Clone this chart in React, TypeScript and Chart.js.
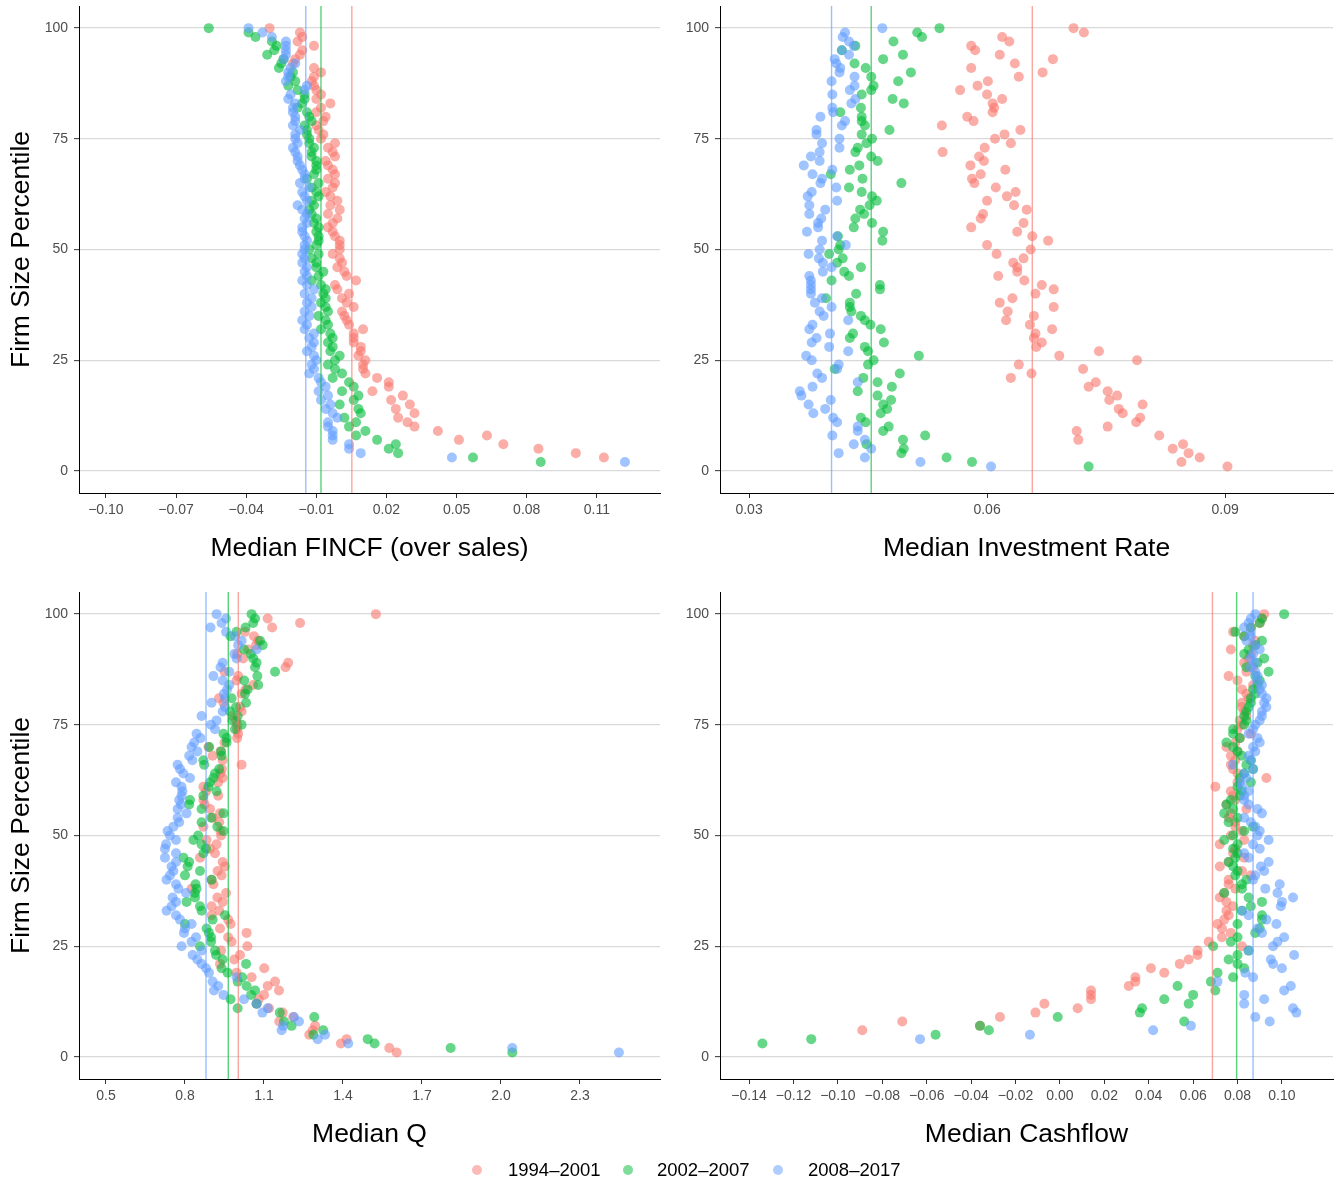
import React, { useEffect, useRef } from "react";
import { Chart, registerables } from "chart.js";

Chart.register(...registerables);

const FONT = "'Liberation Sans', Arial, Helvetica, sans-serif";

// Firm size percentile ranks (y values shared by every series)
const percentiles = [
  1, 2, 3, 4, 5, 6, 7, 8, 9, 10,
  11, 12, 13, 14, 15, 16, 17, 18, 19, 20,
  21, 22, 23, 24, 25, 26, 27, 28, 29, 30,
  31, 32, 33, 34, 35, 36, 37, 38, 39, 40,
  41, 42, 43, 44, 45, 46, 47, 48, 49, 50,
  51, 52, 53, 54, 55, 56, 57, 58, 59, 60,
  61, 62, 63, 64, 65, 66, 67, 68, 69, 70,
  71, 72, 73, 74, 75, 76, 77, 78, 79, 80,
  81, 82, 83, 84, 85, 86, 87, 88, 89, 90,
  91, 92, 93, 94, 95, 96, 97, 98, 99, 100,
];

const periods = ["1994–2001", "2002–2007", "2008–2017"];
const periodRgb = ["248,118,109", "0,186,56", "97,156,255"];

const yTicks = [0, 25, 50, 75, 100];

// ---- Median FINCF (over sales), by percentile 1..100 ----
const fincf1994 = [
  null, null, 0.113, 0.101, 0.085, 0.070, 0.051, 0.063, 0.042, 0.032,
  0.029, 0.025, 0.032, 0.024, 0.030, 0.022, 0.027, 0.014, 0.021, 0.021,
  0.016, 0.011, 0.010, 0.010, 0.011, 0.008, 0.009, 0.009, 0.006, 0.006,
  0.006, 0.010, 0.004, 0.003, 0.002, 0.001, 0.006, 0.003, 0.001, 0.004,
  -0.001, -0.002, 0.007, 0.003, 0.002, -0.001, 0.001, 0.000, -0.003, 0.000,
  0.000, 0.000, -0.002, -0.003, -0.005, -0.003, -0.001, -0.005, 0.000, -0.004,
  -0.001, -0.004, -0.006, -0.003, -0.002, -0.005, -0.002, -0.003, -0.005, -0.006,
  -0.002, -0.003, -0.005, -0.002, -0.008, -0.007, -0.009, -0.010, -0.007, -0.006,
  -0.010, -0.008, -0.004, -0.010, -0.008, -0.010, -0.011, -0.012, -0.011, -0.008,
  -0.011, -0.020, -0.019, -0.017, -0.016, -0.011, -0.018, -0.016, -0.017, -0.030,
];
const fincf2002 = [
  null, 0.086, 0.057, 0.025, 0.021, 0.024, 0.016, 0.007, 0.011, 0.004,
  0.007, 0.002, 0.009, 0.008, 0.000, 0.006, 0.008, 0.001, 0.006, 0.004,
  -0.003, 0.001, -0.002, -0.005, -0.002, 0.000, -0.004, -0.003, -0.005, -0.003,
  -0.004, -0.008, -0.005, -0.006, -0.009, -0.005, -0.006, -0.008, -0.006, -0.007,
  -0.006, -0.008, -0.012, -0.009, -0.007, -0.010, -0.010, -0.012, -0.009, -0.013,
  -0.010, -0.009, -0.009, -0.010, -0.009, -0.011, -0.010, -0.012, -0.013, -0.011,
  -0.012, -0.009, -0.010, -0.012, -0.009, -0.014, -0.011, -0.010, -0.010, -0.010,
  -0.012, -0.012, -0.011, -0.013, -0.013, -0.014, -0.014, -0.015, -0.012, -0.013,
  -0.014, -0.018, -0.016, -0.015, -0.015, -0.018, -0.022, -0.019, -0.021, -0.020,
  -0.026, -0.025, -0.024, -0.031, -0.028, -0.027, -0.029, -0.036, -0.039, -0.056,
];
const fincf2008 = [
  null, 0.122, 0.048, 0.009, 0.004, 0.004, -0.003, -0.003, -0.003, -0.005,
  -0.005, -0.001, -0.003, -0.006, -0.004, -0.008, -0.005, -0.009, -0.006, -0.008,
  -0.009, -0.013, -0.011, -0.012, -0.010, -0.011, -0.014, -0.012, -0.011, -0.013,
  -0.011, -0.015, -0.014, -0.016, -0.013, -0.015, -0.012, -0.014, -0.012, -0.015,
  -0.011, -0.014, -0.016, -0.014, -0.015, -0.014, -0.016, -0.015, -0.016, -0.015,
  -0.015, -0.014, -0.015, -0.016, -0.016, -0.014, -0.015, -0.014, -0.016, -0.018,
  -0.014, -0.015, -0.016, -0.013, -0.017, -0.015, -0.015, -0.016, -0.017, -0.018,
  -0.018, -0.019, -0.020, -0.018, -0.019, -0.019, -0.017, -0.020, -0.019, -0.019,
  -0.020, -0.020, -0.019, -0.022, -0.021, -0.015, -0.014, -0.023, -0.022, -0.022,
  -0.021, -0.019, -0.024, -0.023, -0.023, -0.023, -0.023, -0.029, -0.033, -0.039,
];
const fincfMedians = [0.0052, -0.008, -0.0145];
const fincfTicks = [-0.1, -0.07, -0.04, -0.01, 0.02, 0.05, 0.08, 0.11];

// ---- Median investment rate ----
const invest1994 = [
  0.0903, 0.0845, 0.0868, 0.0854, 0.0834, 0.0847, 0.0715, 0.0817, 0.0713, 0.0752,
  0.0788, 0.0793, 0.0771, 0.0766, 0.0796, 0.0754, 0.0764, 0.0752, 0.0728, 0.0737,
  0.0630, 0.0656, 0.0721, 0.0640, 0.0789, 0.0691, 0.0741, 0.0662, 0.0669, 0.0659,
  0.0661, 0.0682, 0.0654, 0.0624, 0.0659, 0.0626, 0.0684, 0.0616, 0.0632, 0.0661,
  0.0684, 0.0669, 0.0647, 0.0614, 0.0638, 0.0638, 0.0633, 0.0646, 0.0612, 0.0655,
  0.0600, 0.0677, 0.0657, 0.0638, 0.0580, 0.0646, 0.0592, 0.0595, 0.0650, 0.0634,
  0.0600, 0.0625, 0.0636, 0.0611, 0.0584, 0.0581, 0.0592, 0.0623, 0.0579, 0.0596,
  0.0590, 0.0544, 0.0597, 0.0630, 0.0610, 0.0622, 0.0642, 0.0543, 0.0583, 0.0575,
  0.0607, 0.0609, 0.0607, 0.0619, 0.0600, 0.0566, 0.0588, 0.0601, 0.0640, 0.0670,
  0.0580, 0.0635, 0.0683, 0.0616, 0.0585, 0.0580, 0.0628, 0.0619, 0.0722, 0.0709,
];
const invest2002 = [
  0.0728, 0.0581, 0.0549, 0.0492, 0.0495, 0.0448, 0.0494, 0.0522, 0.0469, 0.0476,
  0.0447, 0.0441, 0.0466, 0.0474, 0.0469, 0.0479, 0.0462, 0.0437, 0.0480, 0.0462,
  0.0444, 0.0490, 0.0408, 0.0450, 0.0457, 0.0514, 0.0450, 0.0446, 0.0470, 0.0427,
  0.0431, 0.0466, 0.0453, 0.0446, 0.0441, 0.0429, 0.0427, 0.0427, 0.0397, 0.0435,
  0.0465, 0.0465, 0.0404, 0.0426, 0.0420, 0.0441, 0.0411, 0.0418, 0.0401, 0.0413,
  0.0415, 0.0468, 0.0412, 0.0469, 0.0432, 0.0455, 0.0434, 0.0445, 0.0440, 0.0452,
  0.0461, 0.0455, 0.0442, 0.0426, 0.0492, 0.0443, 0.0403, 0.0427, 0.0439, 0.0462,
  0.0454, 0.0434, 0.0437, 0.0448, 0.0455, 0.0442, 0.0477, 0.0446, 0.0442, 0.0442,
  0.0415, 0.0441, 0.0495, 0.0481, 0.0442, 0.0454, 0.0457, 0.0488, 0.0454, 0.0504,
  0.0447, 0.0433, 0.0469, 0.0494, 0.0417, 0.0434, 0.0482, 0.0518, 0.0512, 0.0540,
];
const invest2008 = [
  0.0605, 0.0516, 0.0446, 0.0413, 0.0454, 0.0432, 0.0446, 0.0405, 0.0437, 0.0437,
  0.0411, 0.0406, 0.0381, 0.0396, 0.0375, 0.0403, 0.0366, 0.0364, 0.0380, 0.0437,
  0.0392, 0.0386, 0.0411, 0.0413, 0.0379, 0.0372, 0.0425, 0.0401, 0.0379, 0.0385,
  0.0402, 0.0376, 0.0380, 0.0425, 0.0394, 0.0389, 0.0404, 0.0383, 0.0392, 0.0378,
  0.0378, 0.0378, 0.0378, 0.0376, 0.0393, 0.0404, 0.0393, 0.0388, 0.0375, 0.0389,
  0.0422, 0.0392, 0.0411, 0.0373, 0.0387, 0.0387, 0.0391, 0.0376, 0.0396, 0.0376,
  0.0411, 0.0374, 0.0379, 0.0410, 0.0390, 0.0392, 0.0380, 0.0405, 0.0369, 0.0389,
  0.0378, 0.0389, 0.0414, 0.0392, 0.0414, 0.0385, 0.0385, 0.0417, 0.0421, 0.0390,
  0.0406, 0.0405, 0.0429, 0.0434, 0.0405, 0.0427, 0.0433, 0.0404, 0.0433, 0.0414,
  0.0415, 0.0410, 0.0408, 0.0426, 0.0417, 0.0432, 0.0426, 0.0418, 0.0421, 0.0468,
];
const investMedians = [0.0657, 0.0454, 0.0404];
const investTicks = [0.03, 0.06, 0.09];

// ---- Median Q ----
const q1994 = [
  1.604, 1.576, 1.392, 1.414, 1.272, 1.285, 1.294, 1.158, 1.211, 1.171,
  1.119, 1.072, 1.080, 1.100, 1.157, 1.114, 1.142, 1.053, 0.996, 1.101,
  0.933, 0.987, 1.009, 0.937, 1.037, 0.977, 0.964, 1.034, 0.933, 0.973,
  0.964, 0.901, 0.930, 0.901, 0.943, 0.923, 0.956, 0.825, 0.908, 0.901,
  0.939, 0.924, 0.952, 0.943, 0.857, 0.914, 0.895, 0.920, 0.882, 0.937,
  0.935, 0.870, 0.930, 0.905, 0.933, 0.895, 0.875, 0.870, 0.926, 0.880,
  0.870, 0.926, 0.943, 0.935, 0.940, 1.015, 0.943, 0.905, 0.935, 0.889,
  0.950, 0.998, 1.002, 0.998, 0.998, 0.994, 0.980, 1.015, 1.009, 0.946,
  0.929, 1.015, 1.030, 1.059, 0.996, 1.002, 0.950, 1.182, 1.192, 1.021,
  0.998, 1.040, 1.070, 1.078, 1.062, 1.028, 1.131, 1.237, 1.114, 1.525,
];
const q2002 = [
  2.043, 1.809, 1.520, 1.494, 1.288, 1.325, 1.205, 1.176, 1.291, 1.160,
  1.000, 1.072, 0.973, 1.051, 1.066, 1.034, 1.000, 1.017, 0.962, 0.939,
  1.032, 0.943, 0.918, 0.914, 0.857, 0.899, 0.899, 0.891, 0.882, 0.800,
  0.905, 0.952, 0.863, 0.857, 0.806, 0.838, 0.838, 0.844, 0.840, 0.901,
  0.800, 0.857, 0.810, 0.816, 0.794, 0.870, 0.880, 0.863, 0.832, 0.850,
  0.946, 0.923, 0.863, 0.900, 0.946, 0.863, 0.816, 0.819, 0.870, 0.920,
  0.889, 0.895, 0.908, 0.914, 0.930, 0.873, 0.870, 0.939, 0.937, 0.892,
  0.958, 0.958, 0.946, 0.990, 1.015, 0.980, 1.000, 0.971, 0.994, 1.032,
  0.977, 1.028, 1.038, 1.078, 1.025, 1.075, 1.142, 1.066, 1.072, 1.059,
  1.050, 1.024, 1.095, 1.085, 0.973, 0.996, 1.030, 1.059, 1.066, 1.053,
];
const q2008 = [
  2.448, 2.043, 1.420, 1.304, 1.332, 1.167, 1.173, 1.233, 1.214, 1.094,
  1.114, 1.072, 1.024, 0.946, 0.910, 0.926, 0.905, 0.996, 0.891, 0.880,
  0.863, 0.847, 0.829, 0.863, 0.787, 0.825, 0.842, 0.796, 0.800, 0.825,
  0.781, 0.766, 0.730, 0.749, 0.766, 0.753, 0.804, 0.775, 0.766, 0.730,
  0.743, 0.756, 0.749, 0.766, 0.724, 0.766, 0.724, 0.728, 0.766, 0.743,
  0.734, 0.756, 0.778, 0.772, 0.806, 0.772, 0.785, 0.778, 0.787, 0.790,
  0.787, 0.766, 0.819, 0.794, 0.781, 0.772, 0.828, 0.816, 0.847, 0.825,
  0.835, 0.859, 0.844, 0.914, 0.899, 0.920, 0.863, 0.943, 0.952, 0.901,
  0.952, 0.948, 0.960, 0.968, 0.943, 0.908, 0.968, 0.935, 0.943, 0.996,
  0.987, 1.072, 1.002, 1.015, 0.990, 0.956, 0.897, 0.939, 0.956, 0.920,
];
const qMedians = [1.0025, 0.9645, 0.88];
const qTicks = [0.5, 0.8, 1.1, 1.4, 1.7, 2.0, 2.3];

// ---- Median cashflow ----
const cash1994 = [
  null, null, null, null, null, -0.089, -0.036, -0.071, -0.027, -0.011,
  0.008, -0.007, 0.014, 0.014, 0.014, 0.031, 0.034, 0.034, 0.047, 0.041,
  0.054, 0.058, 0.062, 0.062, 0.082, 0.067, 0.073, 0.077, 0.073, 0.071,
  0.074, 0.076, 0.075, 0.078, 0.075, 0.072, 0.074, 0.079, 0.076, 0.076,
  0.086, 0.082, 0.072, 0.076, 0.083, 0.078, 0.079, 0.072, 0.083, 0.077,
  0.082, 0.079, 0.079, 0.076, 0.077, 0.084, 0.075, 0.079, 0.078, 0.077,
  0.070, 0.080, 0.093, 0.080, 0.078, 0.077, 0.079, 0.077, 0.080, 0.075,
  0.079, 0.081, 0.086, 0.080, 0.082, 0.081, 0.084, 0.083, 0.082, 0.082,
  0.085, 0.084, 0.082, 0.087, 0.080, 0.076, 0.084, 0.087, 0.083, 0.085,
  0.086, 0.077, 0.087, 0.088, 0.083, 0.078, 0.086, 0.090, 0.091, 0.092,
];
const cash2002 = [
  null, null, -0.134, -0.112, -0.056, -0.032, -0.036, 0.056, -0.001, 0.036,
  0.037, 0.058, 0.047, 0.060, 0.070, 0.053, 0.068, 0.078, 0.071, 0.083,
  0.080, 0.076, 0.080, 0.085, 0.069, 0.077, 0.080, 0.088, 0.090, 0.080,
  0.091, 0.091, 0.082, 0.086, 0.091, 0.085, 0.074, 0.082, 0.082, 0.084,
  0.079, 0.080, 0.078, 0.076, 0.079, 0.080, 0.078, 0.080, 0.074, 0.078,
  0.083, 0.087, 0.076, 0.080, 0.074, 0.078, 0.075, 0.077, 0.081, 0.082,
  0.080, 0.086, 0.081, 0.083, 0.087, 0.084, 0.086, 0.082, 0.080, 0.078,
  0.075, 0.081, 0.078, 0.078, 0.083, 0.084, 0.083, 0.084, 0.085, 0.086,
  0.086, 0.088, 0.087, 0.089, 0.090, 0.088, 0.094, 0.084, 0.089, 0.092,
  0.083, 0.085, 0.088, 0.091, 0.083, 0.079, 0.086, 0.090, 0.091, 0.101,
];
const cash2008 = [
  null, null, null, -0.063, -0.0135, 0.042, 0.059, 0.0945, 0.088, 0.1065,
  0.105, 0.083, 0.092, 0.083, 0.101, 0.104, 0.071, 0.087, 0.0835, 0.100,
  0.096, 0.095, 0.1055, 0.085, 0.096, 0.098, 0.101, 0.091, 0.089, 0.0975,
  0.093, 0.085, 0.082, 0.0995, 0.100, 0.105, 0.098, 0.0925, 0.099, 0.087,
  0.088, 0.092, 0.0905, 0.094, 0.085, 0.083, 0.090, 0.087, 0.094, 0.089,
  0.090, 0.088, 0.086, 0.083, 0.091, 0.089, 0.085, 0.083, 0.083, 0.085,
  0.082, 0.081, 0.084, 0.083, 0.087, 0.078, 0.086, 0.085, 0.088, 0.087,
  0.090, 0.089, 0.085, 0.087, 0.088, 0.090, 0.091, 0.091, 0.093, 0.092,
  0.093, 0.091, 0.090, 0.091, 0.089, 0.089, 0.088, 0.086, 0.088, 0.086,
  0.087, 0.090, 0.088, 0.084, 0.086, 0.086, 0.083, 0.085, 0.086, 0.088,
];
const cashMedians = [0.0687, 0.0796, 0.087];
const cashTicks = [-0.14, -0.12, -0.1, -0.08, -0.06, -0.04, -0.02, 0, 0.02, 0.04, 0.06, 0.08, 0.1];

const rgba = (rgb: string, a: number) => `rgba(${rgb},${a})`;
const fmt = (v: number, d: number) => v.toFixed(d).replace("-", "\u2212");

type PanelProps = {
  left: number;
  top: number;
  width: number;
  height: number;
  yAxisWidth: number;
  padRight: number;
  xMin: number;
  xMax: number;
  xTicks: number[];
  decimals: number;
  xTitle: string;
  showYTitle: boolean;
  series: (number | null)[][];
  medians: number[];
};

function ScatterPanel(props: PanelProps) {
  const canvasRef = useRef<HTMLCanvasElement | null>(null);

  useEffect(() => {
    const canvas = canvasRef.current;
    if (!canvas) return;
    const { yAxisWidth, padRight, xMin, xMax, xTicks, decimals, xTitle, showYTitle, series, medians } = props;

    const medianSets = medians.map((m, i) => ({
      label: periods[i] + " median",
      data: [
        { x: m, y: -5 },
        { x: m, y: 105 },
      ],
      showLine: true,
      borderColor: rgba(periodRgb[i], 0.65),
      borderWidth: 1.4,
      pointRadius: 0,
      order: 0,
    }));

    const pointSets = series.map((vals, i) => ({
      label: periods[i],
      data: percentiles.flatMap((p, j) => (vals[j] === null ? [] : [{ x: vals[j] as number, y: p }])),
      backgroundColor: rgba(periodRgb[i], 0.6),
      borderWidth: 0,
      pointRadius: 5,
      pointHoverRadius: 5,
      order: 3 - i,
    }));

    const chart = new Chart(canvas, {
      type: "scatter",
      data: { datasets: [...medianSets, ...pointSets] as any },
      options: {
        responsive: false,
        animation: false,
        events: [],
        layout: { padding: { top: 6, right: padRight, left: 0, bottom: 0 } },
        plugins: { legend: { display: false }, tooltip: { enabled: false } },
        scales: {
          x: {
            type: "linear",
            min: xMin,
            max: xMax,
            afterBuildTicks: (scale: any) => {
              scale.ticks = xTicks.map((v) => ({ value: v }));
            },
            afterFit: (scale: any) => {
              scale.height = 82;
              scale.paddingLeft = 0;
              scale.paddingRight = 0;
            },
            ticks: {
              autoSkip: false,
              maxRotation: 0,
              minRotation: 0,
              padding: 4,
              color: "#4d4d4d",
              font: { family: FONT, size: 14 },
              callback: (v: any) => fmt(Number(v), decimals),
            },
            grid: {
              drawOnChartArea: false,
              drawTicks: true,
              tickLength: 5,
              tickColor: "#333333",
              tickWidth: 1,
            },
            border: { display: true, color: "#000000", width: 1 },
            title: {
              display: true,
              text: xTitle,
              color: "#000000",
              font: { family: FONT, size: 26.5 },
              padding: { top: 0, bottom: 10 },
            },
          },
          y: {
            type: "linear",
            min: -5,
            max: 105,
            afterBuildTicks: (scale: any) => {
              scale.ticks = yTicks.map((v) => ({ value: v }));
            },
            afterFit: (scale: any) => {
              scale.width = yAxisWidth;
              scale.paddingTop = 0;
              scale.paddingBottom = 0;
            },
            ticks: {
              padding: 6,
              color: "#4d4d4d",
              font: { family: FONT, size: 14 },
              callback: (v: any) => String(v),
            },
            grid: {
              color: "#d9d9d9",
              lineWidth: 1.3,
              drawTicks: true,
              tickLength: 5,
              tickColor: "#333333",
              tickWidth: 1,
            },
            border: { display: true, color: "#000000", width: 1 },
            title: {
              display: showYTitle,
              text: "Firm Size Percentile",
              color: "#000000",
              font: { family: FONT, size: 26.5 },
              padding: { top: 6, bottom: 0 },
            },
          },
        },
      } as any,
    });

    return () => chart.destroy();
  }, []);

  return (
    <canvas
      ref={canvasRef}
      width={props.width}
      height={props.height}
      style={{
        position: "absolute",
        left: props.left,
        top: props.top,
        width: props.width,
        height: props.height,
      }}
    />
  );
}

const legendItems = [
  { dotLeft: 472, textLeft: 508 },
  { dotLeft: 623, textLeft: 657 },
  { dotLeft: 773, textLeft: 808 },
];

export default function App() {
  return (
    <div
      style={{
        position: "absolute",
        left: 0,
        top: 0,
        width: 1341,
        height: 1182,
        background: "#ffffff",
        overflow: "hidden",
      }}
    >
      <ScatterPanel
        left={0}
        top={0}
        width={670}
        height={575}
        yAxisWidth={79}
        padRight={10}
        xMin={-0.1115}
        xMax={0.137}
        xTicks={fincfTicks}
        decimals={2}
        xTitle="Median FINCF (over sales)"
        showYTitle={true}
        series={[fincf1994, fincf2002, fincf2008]}
        medians={fincfMedians}
      />
      <ScatterPanel
        left={670}
        top={0}
        width={671}
        height={575}
        yAxisWidth={50}
        padRight={8}
        xMin={0.02634}
        xMax={0.1036}
        xTicks={investTicks}
        decimals={2}
        xTitle="Median Investment Rate"
        showYTitle={false}
        series={[invest1994, invest2002, invest2008]}
        medians={investMedians}
      />
      <ScatterPanel
        left={0}
        top={586}
        width={670}
        height={575}
        yAxisWidth={79}
        padRight={10}
        xMin={0.3975}
        xMax={2.604}
        xTicks={qTicks}
        decimals={1}
        xTitle="Median Q"
        showYTitle={true}
        series={[q1994, q2002, q2008]}
        medians={qMedians}
      />
      <ScatterPanel
        left={670}
        top={586}
        width={671}
        height={575}
        yAxisWidth={50}
        padRight={8}
        xMin={-0.1531}
        xMax={0.123}
        xTicks={cashTicks}
        decimals={2}
        xTitle="Median Cashflow"
        showYTitle={false}
        series={[cash1994, cash2002, cash2008]}
        medians={cashMedians}
      />
      {periods.map((name, i) => (
        <React.Fragment key={name}>
          <span
            style={{
              position: "absolute",
              left: legendItems[i].dotLeft,
              top: 1165,
              width: 10,
              height: 10,
              borderRadius: 5,
              background: rgba(periodRgb[i], 0.5),
            }}
          />
          <span
            style={{
              position: "absolute",
              left: legendItems[i].textLeft,
              top: 1158,
              lineHeight: "24px",
              fontFamily: FONT,
              fontSize: 18.5,
              color: "#000000",
              whiteSpace: "nowrap",
            }}
          >
            {name}
          </span>
        </React.Fragment>
      ))}
    </div>
  );
}
